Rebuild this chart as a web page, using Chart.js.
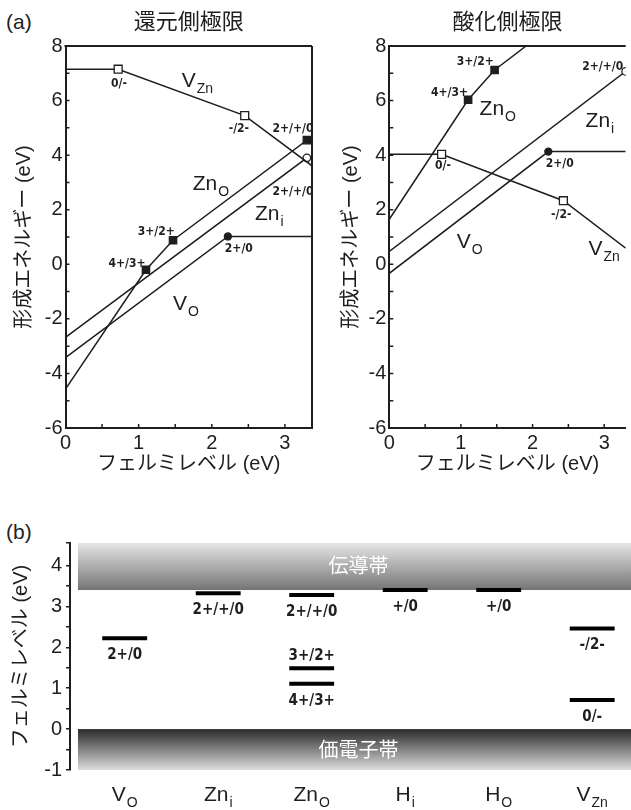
<!DOCTYPE html>
<html lang="ja">
<head>
<meta charset="UTF-8">
<title>ZnO 点欠陥の形成エネルギーと遷移準位</title>
<script src="https://cdn.jsdelivr.net/npm/chart.js@4.4.1/dist/chart.umd.min.js"></script>
<style>
  body { margin: 0; background: #fff; width: 631px; height: 810px; position: relative; overflow: hidden; }
  canvas { position: absolute; }
  .tag { position: absolute; font: 21px 'Liberation Sans', Arial, sans-serif; color: #222; line-height: 24px; }
</style>
</head>
<body>
<div class="tag" style="left:6px; top:10px">(a)</div>
<div class="tag" style="left:6px; top:520px">(b)</div>
<canvas id="cvRed" width="330" height="480" style="left:0; top:0"></canvas>
<canvas id="cvOx" width="301" height="480" style="left:330px; top:0"></canvas>
<canvas id="cvLevels" width="631" height="330" style="left:0; top:480px"></canvas>
<script>
// 還元側極限: 折れ点 (フェルミレベル eV, 形成エネルギー eV)
const redVZnEf = [0, 0.72, 2.45, 3.37];
const redVZnE  = [7.15, 7.15, 5.45, 3.61];
const redZnOEf = [0, 1.10, 1.47, 3.30, 3.37];
const redZnOE  = [-4.57, -0.20, 0.88, 4.55, 4.55];
const redZniEf = [0, 3.30, 3.37];
const redZniE  = [-2.68, 3.90, 3.90];
const redVOEf  = [0, 2.22, 3.37];
const redVOE   = [-3.42, 1.02, 1.02];

// 酸化側極限
const oxVZnEf = [0, 0.73, 2.43, 3.30];
const oxVZnE  = [4.03, 4.03, 2.33, 0.59];
const oxZnOEf = [0, 1.10, 1.47, 1.91];
const oxZnOE  = [1.65, 6.03, 7.12, 8.00];
const oxZniEf = [0, 3.30];
const oxZniE  = [0.47, 7.07];
const oxVOEf  = [0, 2.22, 3.30];
const oxVOE   = [-0.33, 4.13, 4.13];

// (b) 遷移準位
const defectMain = ['V', 'Zn', 'Zn', 'H', 'H', 'V'];
const defectSub  = ['O', 'i', 'O', 'i', 'O', 'Zn'];
const levelDefect = [0, 1, 2, 2, 2, 3, 4, 5, 5];
const levelEf     = [2.22, 3.32, 3.28, 1.49, 1.11, 3.40, 3.40, 2.46, 0.71];
const levelName   = ['2+/0', '2+/+/0', '2+/+/0', '3+/2+', '4+/3+', '+/0', '+/0', '-/2-', '0/-'];
const vbm = 0;
const cbm = 3.4;

const INK = '#1e1e1e';
const SANS = "'Liberation Sans', Arial, sans-serif";
const NARROW = "'Liberation Sans Narrow', 'DejaVu Sans Condensed', 'Liberation Sans', sans-serif";
const JP = "'Liberation Sans', 'Noto Sans CJK JP', sans-serif";

Chart.defaults.font.family = SANS;
Chart.defaults.color = INK;
Chart.defaults.animation = false;
Chart.defaults.events = [];

const pts = (xs, ys) => xs.map((x, i) => ({x: x, y: ys[i]}));

function curve(xs, ys, marks, style, filled, r) {
  return {
    data: pts(xs, ys),
    showLine: true,
    borderColor: INK,
    borderWidth: 1.5,
    pointStyle: style,
    pointRadius: xs.map((_, i) => marks.includes(i) ? r : 0),
    pointBackgroundColor: filled ? INK : '#fff',
    pointBorderColor: INK,
    pointBorderWidth: 1.3
  };
}

function fixedSize(size) {
  return s => { if (s.isHorizontal()) s.height = size; else s.width = size; };
}

function drawSub(ctx, x, y, main, sub, big, small, center) {
  ctx.font = big + 'px ' + SANS;
  const w1 = ctx.measureText(main).width;
  ctx.font = small + 'px ' + SANS;
  const w2 = ctx.measureText(sub).width;
  const left = center ? x - (w1 + w2 + 1) / 2 : x;
  ctx.textAlign = 'left';
  ctx.textBaseline = 'alphabetic';
  ctx.font = big + 'px ' + SANS;
  ctx.fillText(main, left, y);
  ctx.font = small + 'px ' + SANS;
  ctx.fillText(sub, left + w1 + 1, y + small * 0.42);
}

// frame with inward tick marks, plus the curve and level labels
const formationPlugin = {
  id: 'formation',
  afterDraw(chart, args, opts) {
    const {ctx, chartArea: a, scales: {x, y}} = chart;
    ctx.save();
    ctx.strokeStyle = INK;
    ctx.lineWidth = 2;
    ctx.beginPath();
    ctx.moveTo(a.left - 1, a.top);
    ctx.lineTo(a.right, a.top);
    if (opts.rightEdge) {
      ctx.moveTo(a.right, a.top);
      ctx.lineTo(a.right, a.bottom);
    }
    ctx.stroke();

    ctx.lineWidth = 1.5;
    ctx.beginPath();
    y.ticks.forEach(t => {
      if (t.value <= y.min || t.value >= y.max) return;
      const py = y.getPixelForValue(t.value);
      ctx.moveTo(a.left, py);
      ctx.lineTo(a.left + 4, py);
    });
    x.ticks.forEach(t => {
      if (t.value <= x.min || t.value >= x.max) return;
      const px = x.getPixelForValue(t.value);
      ctx.moveTo(px, a.bottom);
      ctx.lineTo(px, a.bottom - 4);
    });
    ctx.stroke();

    ctx.fillStyle = INK;
    ctx.font = '22px ' + JP;
    ctx.textAlign = 'center';
    ctx.textBaseline = 'middle';
    ctx.fillText(opts.heading, (a.left + a.right) / 2, 23);

    opts.curves.forEach(c => {
      drawSub(ctx, x.getPixelForValue(c.x), y.getPixelForValue(c.y), c.main, c.sub, 21, 14, false);
    });

    ctx.font = 'bold 12px ' + NARROW;
    ctx.textAlign = 'center';
    ctx.textBaseline = 'middle';
    opts.levels.forEach(l => {
      ctx.fillText(l.text, x.getPixelForValue(l.x), y.getPixelForValue(l.y));
    });
    ctx.restore();
  }
};

function formationChart(id, datasets, xMax, yWidth, titlePad, rightPad, plugOpts) {
  return new Chart(document.getElementById(id), {
    type: 'scatter',
    data: {datasets: datasets},
    options: {
      responsive: false,
      layout: {padding: {top: 46, right: rightPad, left: 0, bottom: 0}},
      plugins: {legend: {display: false}, tooltip: {enabled: false}, formation: plugOpts},
      scales: {
        x: {
          type: 'linear', min: 0, max: xMax,
          grid: {display: false, drawTicks: false},
          border: {display: true, color: INK, width: 2},
          ticks: {
            stepSize: 0.5, autoSkip: false, maxRotation: 0, padding: 3, includeBounds: false,
            font: {size: 20},
            callback: v => Math.abs(v - Math.round(v)) < 1e-6 ? String(Math.round(v)) : ''
          },
          title: {display: true, text: 'フェルミレベル (eV)', font: {size: 20, family: JP}, padding: {top: 0, bottom: 4}},
          afterFit: fixedSize(52)
        },
        y: {
          type: 'linear', min: -6, max: 8,
          grid: {display: false, drawTicks: false},
          border: {display: true, color: INK, width: 2},
          ticks: {
            stepSize: 1, autoSkip: false, padding: 3,
            font: {size: 20},
            callback: v => Math.round(v) % 2 === 0 ? String(Math.round(v)) : ''
          },
          title: {display: true, text: '形成エネルギー (eV)', font: {size: 20, family: JP}, padding: {top: titlePad, bottom: 0}},
          afterFit: fixedSize(yWidth)
        }
      }
    },
    plugins: [formationPlugin]
  });
}

formationChart('cvRed', [
  curve(redVZnEf, redVZnE, [1, 2], 'rect', false, 5.6),
  curve(redZnOEf, redZnOE, [1, 2, 3], 'rect', true, 5.2),
  curve(redZniEf, redZniE, [1], 'circle', false, 3.8),
  curve(redVOEf, redVOE, [1], 'circle', true, 3.5)
], 3.37, 65.5, 12, 18, {
  heading: '還元側極限',
  rightEdge: true,
  curves: [
    {main: 'V', sub: 'Zn', x: 1.59, y: 6.50},
    {main: 'Zn', sub: 'O', x: 1.74, y: 2.72},
    {main: 'Zn', sub: 'i', x: 2.59, y: 1.63},
    {main: 'V', sub: 'O', x: 1.47, y: -1.67}
  ],
  levels: [
    {text: '0/-', x: 0.73, y: 6.63},
    {text: '-/2-', x: 2.37, y: 4.96},
    {text: '2+/+/0', x: 3.11, y: 4.96},
    {text: '2+/+/0', x: 3.11, y: 2.65},
    {text: '3+/2+', x: 1.24, y: 1.18},
    {text: '4+/3+', x: 0.84, y: 0.01},
    {text: '2+/0', x: 2.37, y: 0.56}
  ]
});

formationChart('cvOx', [
  curve(oxVZnEf, oxVZnE, [1, 2], 'rect', false, 5.6),
  curve(oxZnOEf, oxZnOE, [1, 2], 'rect', true, 5.2),
  curve(oxZniEf, oxZniE, [1], 'circle', false, 3.8),
  curve(oxVOEf, oxVOE, [1], 'circle', true, 3.5)
], 3.3, 59.3, 9, 0, {
  heading: '酸化側極限',
  rightEdge: false,
  curves: [
    {main: 'Zn', sub: 'O', x: 1.26, y: 5.47},
    {main: 'Zn', sub: 'i', x: 2.74, y: 5.03},
    {main: 'V', sub: 'O', x: 0.94, y: 0.60},
    {main: 'V', sub: 'Zn', x: 2.78, y: 0.35}
  ],
  levels: [
    {text: '3+/2+', x: 1.20, y: 7.40},
    {text: '4+/3+', x: 0.84, y: 6.30},
    {text: '2+/+/0', x: 2.98, y: 7.23},
    {text: '0/-', x: 0.75, y: 3.60},
    {text: '2+/0', x: 2.38, y: 3.68},
    {text: '-/2-', x: 2.40, y: 1.81}
  ]
});

// bands behind the levels, labels on top
const levelPlugin = {
  id: 'levelPlot',
  beforeDatasetsDraw(chart) {
    const {ctx, chartArea: a, scales: {x, y}} = chart;
    const left = x.getPixelForValue(0);
    ctx.save();
    const cbTop = y.getPixelForValue(y.max), cbBot = y.getPixelForValue(cbm);
    let g = ctx.createLinearGradient(0, cbTop, 0, cbBot);
    g.addColorStop(0, '#e6e6e6');
    g.addColorStop(1, '#747474');
    ctx.fillStyle = g;
    ctx.fillRect(left, cbTop, a.right - left, cbBot - cbTop);

    const vbTop = y.getPixelForValue(vbm), vbBot = y.getPixelForValue(y.min);
    g = ctx.createLinearGradient(0, vbTop, 0, vbBot);
    g.addColorStop(0, '#2a2a2a');
    g.addColorStop(1, '#dcdcdc');
    ctx.fillStyle = g;
    ctx.fillRect(left, vbTop, a.right - left, vbBot - vbTop);

    ctx.fillStyle = '#fff';
    ctx.font = '20px ' + JP;
    ctx.textAlign = 'center';
    ctx.textBaseline = 'middle';
    const mid = x.getPixelForValue(defectMain.length / 2);
    ctx.fillText('伝導帯', mid, (cbTop + cbBot) / 2 + 1);
    ctx.fillText('価電子帯', mid, (vbTop + vbBot) / 2 + 2);
    ctx.restore();
  },
  afterDraw(chart) {
    const {ctx, chartArea: a, scales: {x, y}} = chart;
    ctx.save();
    ctx.fillStyle = INK;
    ctx.font = 'bold 15px ' + NARROW;
    ctx.textAlign = 'center';
    ctx.textBaseline = 'middle';
    levelName.forEach((name, i) => {
      const px = x.getPixelForValue(levelDefect[i] + 0.5);
      const py = y.getPixelForValue(levelEf[i]);
      ctx.fillText(name, px, name === '3+/2+' ? py - 12 : py + 17);
    });
    defectMain.forEach((m, i) => {
      drawSub(ctx, x.getPixelForValue(i + 0.5), a.bottom + 31, m, defectSub[i], 21, 14, true);
    });
    ctx.restore();
  }
};

new Chart(document.getElementById('cvLevels'), {
  type: 'scatter',
  data: {
    datasets: levelEf.map((e, i) => ({
      data: [{x: levelDefect[i] + 0.26, y: e}, {x: levelDefect[i] + 0.74, y: e}],
      showLine: true,
      borderColor: '#000',
      borderWidth: 4,
      borderCapStyle: 'butt',
      pointRadius: 0
    }))
  },
  options: {
    responsive: false,
    layout: {padding: {top: 63, right: 0, left: 0, bottom: 40}},
    plugins: {legend: {display: false}, tooltip: {enabled: false}},
    scales: {
      x: {type: 'linear', min: -0.085, max: 5.915, display: false},
      y: {
        type: 'linear', min: -1, max: 4.55,
        grid: {drawOnChartArea: false, drawTicks: true, tickLength: 4, color: INK, lineWidth: 1.5},
        border: {display: true, color: INK, width: 2},
        ticks: {
          stepSize: 0.5, autoSkip: false, padding: 4,
          font: {size: 20},
          callback: v => Math.abs(v - Math.round(v)) < 1e-6 ? String(Math.round(v)) : ''
        },
        title: {display: true, text: 'フェルミレベル (eV)', font: {size: 20, family: JP}, padding: {top: 9, bottom: 0}},
        afterFit: fixedSize(70)
      }
    }
  },
  plugins: [levelPlugin]
});
</script>
</body>
</html>
